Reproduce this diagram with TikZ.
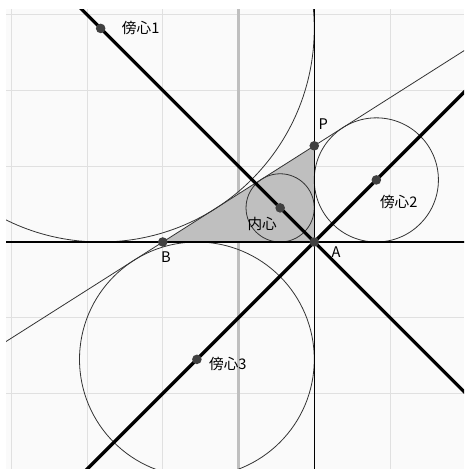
\documentclass[tikz,border=0pt]{standalone}
\usepackage{fontspec}
\setmainfont{Noto Sans CJK JP}
\usetikzlibrary{positioning, calc}

\begin{document}
\begin{tikzpicture}[
    x=2cm, y=2cm,
    gridline/.style={draw=black!12, line width=0.6pt},
    axis/.style={draw=black!25, line width=2.2pt},
    circ/.style={draw=black!80, line width=0.6pt},
    bis/.style={line width=2.4pt},
    dot/.style={circle, fill=black!75, inner sep=0pt, minimum size=7.2pt},
    lbl/.style={inner sep=0pt, font=\fontsize{11}{13}\selectfont}
]
\useasboundingbox (-3.149,-2.997) rectangle (2.977,3.195);
\fill[black!2] (-3.069,-2.997) rectangle (2.977,3.076);
\clip (-3.069,-2.997) rectangle (2.977,3.076);
\draw[gridline, step=1] (-3.069,-2.997) grid (2.977,3.076);
\draw[axis] (0,-3.1) -- (0,3.2);
\draw[axis] (-3.2,0) -- (3.1,0);

% triangle and centres
\coordinate (A) at (1,0);
\coordinate (B) at (-1,0);
\coordinate (P) at (1,1.27);
\coordinate (I) at (0.5496,0.4504);
\coordinate (E1) at (-1.8196,2.8196);
\coordinate (E2) at (1.8196,0.8196);
\coordinate (E3) at (-0.5496,-1.5496);

\fill[black!25] (A) -- (B) -- (P) -- cycle;

\draw[circ] (I) circle[radius=0.4504];
\draw[circ] (E1) circle[radius=2.8196];
\draw[circ] (E2) circle[radius=0.8196];
\draw[circ] (E3) circle[radius=1.5496];

\draw[black!80, line width=0.6pt] ($(B)!-3!(P)$) -- ($(B)!4!(P)$);
\draw[line width=0.8pt] ($(A)!-3!(P)$) -- ($(A)!4!(P)$);
\draw[line width=0.9pt] ($(B)!-2!(A)$) -- ($(B)!3!(A)$);
\draw[bis] ($(A)!-2!(E1)$) -- ($(A)!2!(E1)$);
\draw[bis] ($(E3)!-3!(E2)$) -- ($(E2)!-3!(E3)$);

\node[dot] (a) at (A) {};
\node[dot] (b) at (B) {};
\node[dot] (p) at (P) {};
\node[dot] (ic) at (I) {};
\node[dot] (e1) at (E1) {};
\node[dot] (e2) at (E2) {};
\node[dot] (e3) at (E3) {};

\node[lbl, right=15.8pt of E1] (t1) {傍心1};
\node[lbl, below right=11pt and 2.6pt of E2] (t2) {傍心2};
\node[lbl, right=9pt of E3, yshift=-3.4pt] (t3) {傍心3};
\node[lbl, below left=6.5pt and 2.3pt of I] (ti) {内心};
\node[lbl, above right=12pt and 3pt of P] (tp) {P};
\node[lbl, below=7.5pt of B, xshift=2.3pt] (tb) {B};
\node[lbl, below right=3.5pt and 12.8pt of A] (ta) {A};
\end{tikzpicture}
\end{document}
